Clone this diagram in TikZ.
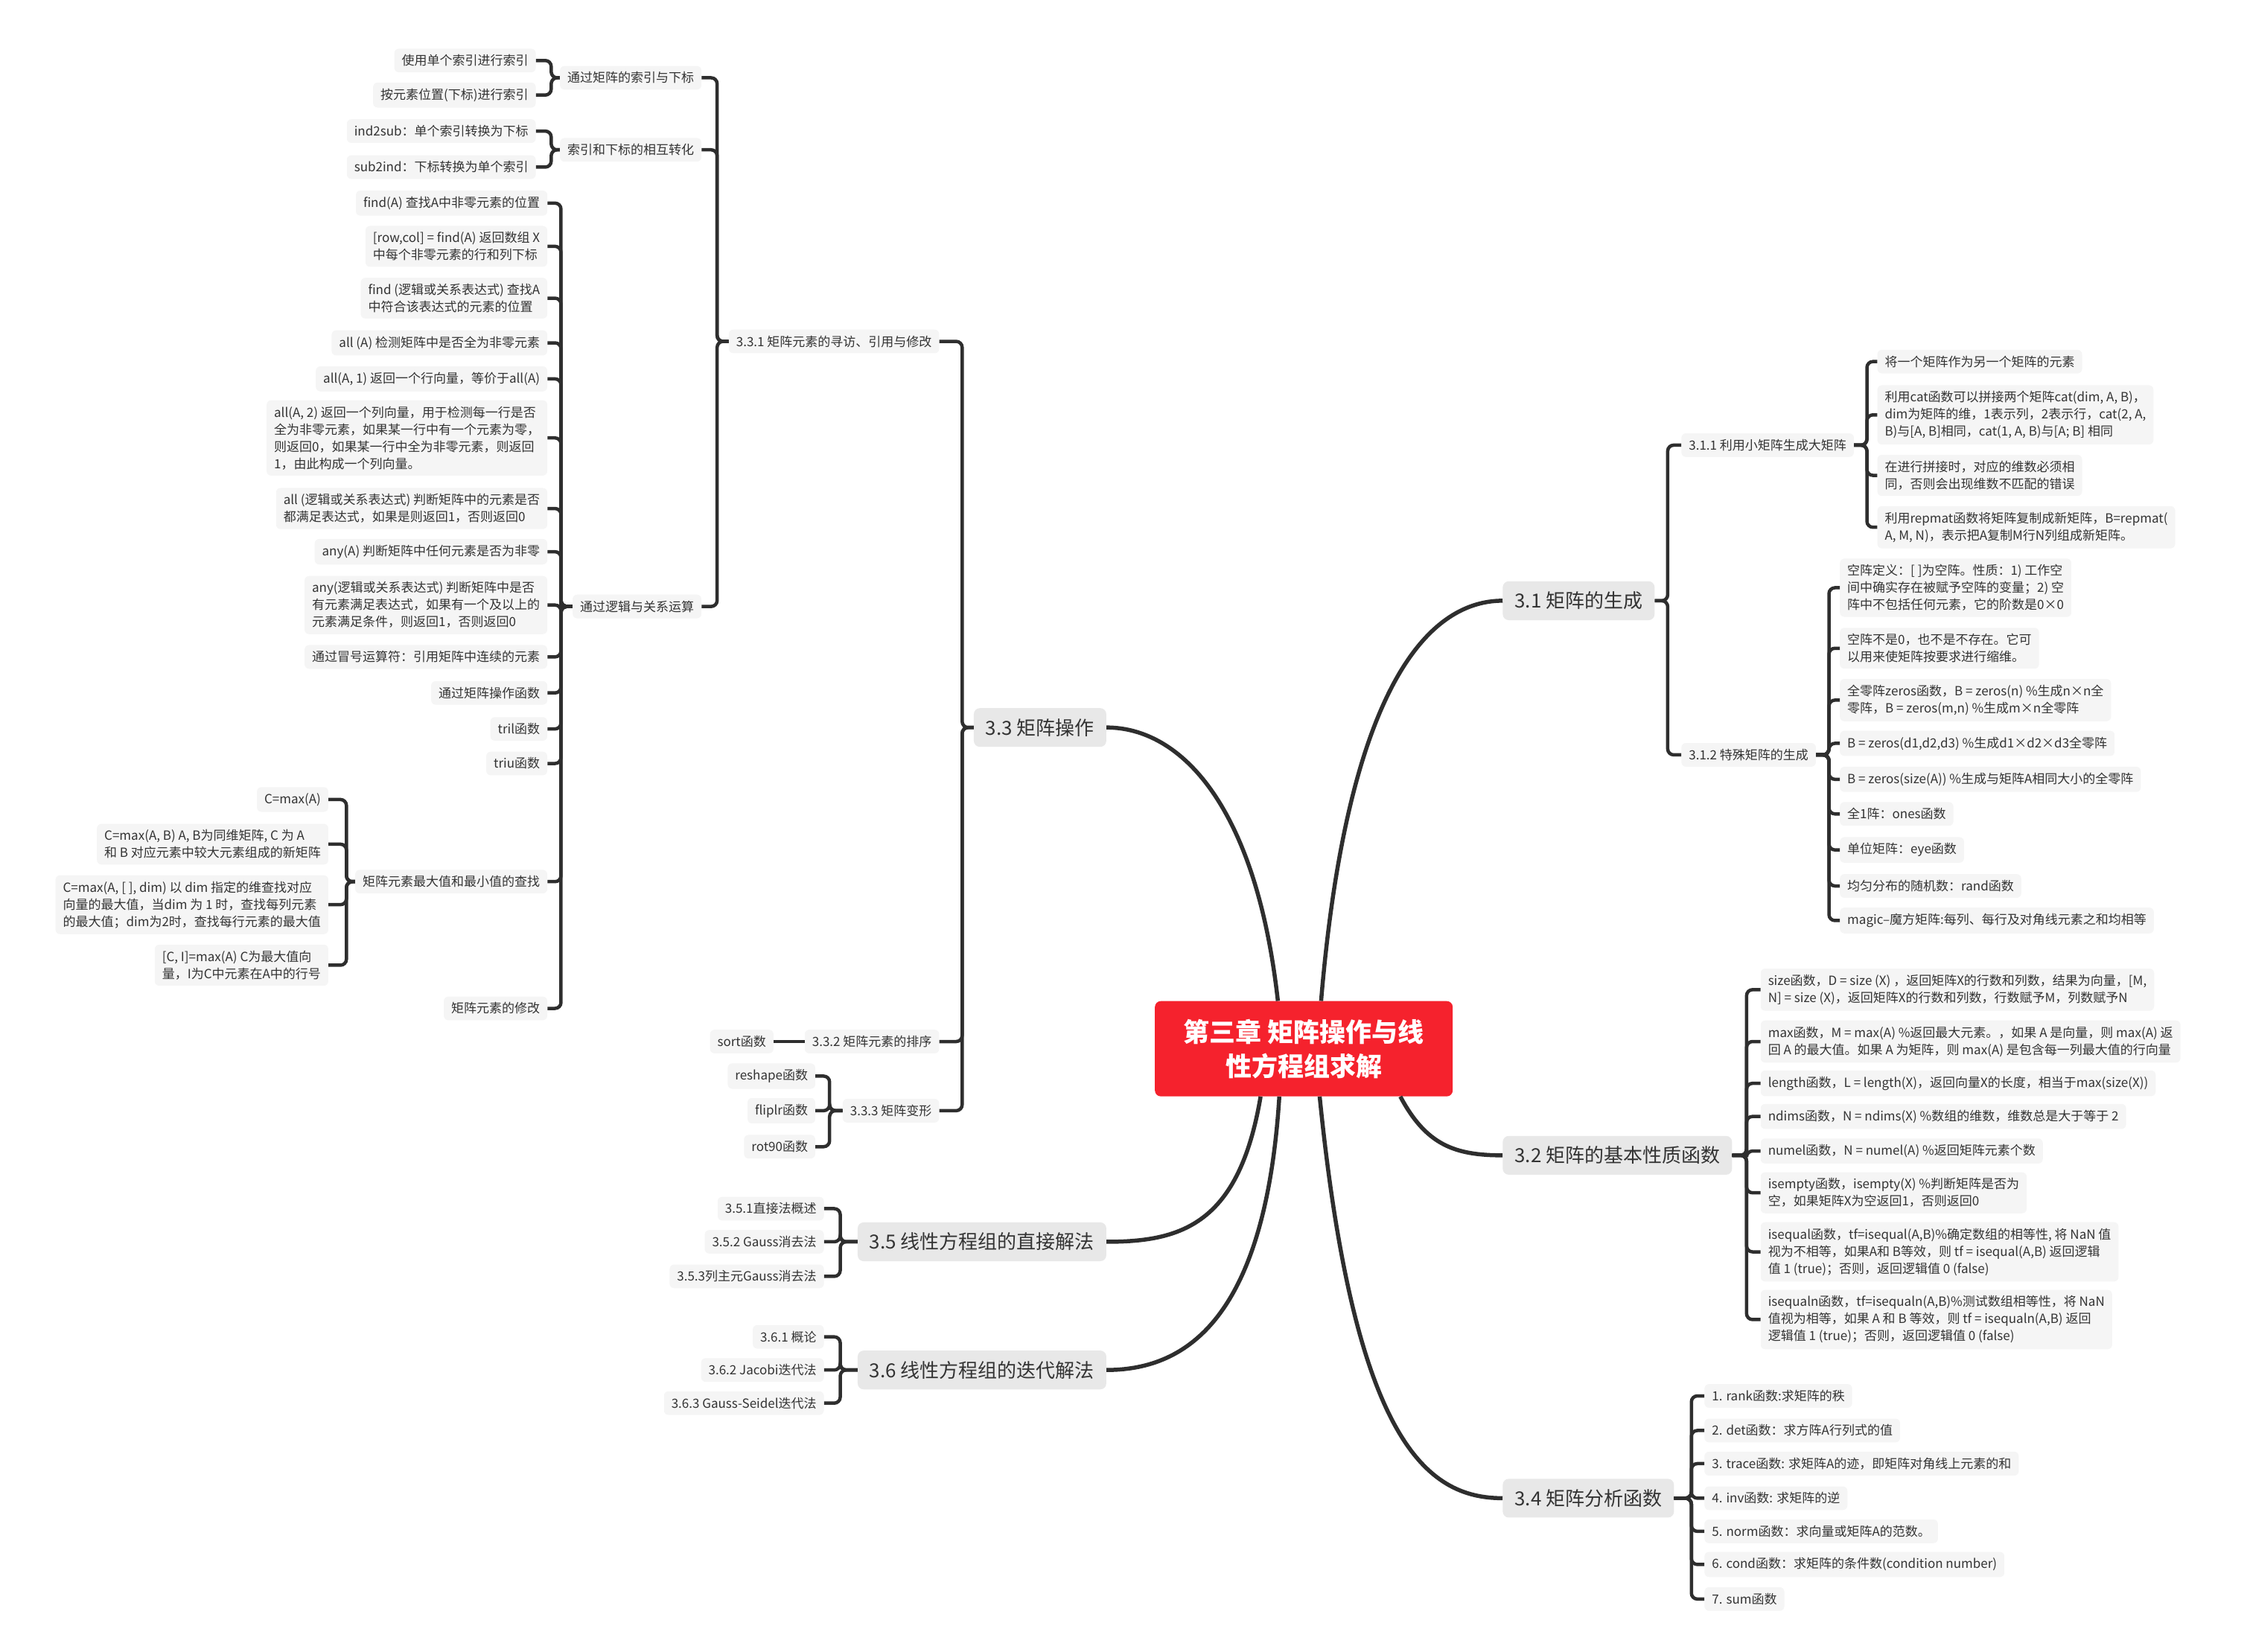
\documentclass[tikz,border=0pt]{standalone}
\usepackage{fontspec}
\setmainfont{Noto Sans CJK SC}
\usetikzlibrary{calc}
\definecolor{txt}{HTML}{333333}
\definecolor{leafg}{HTML}{F5F5F5}
\definecolor{maing}{HTML}{E8E8E8}
\definecolor{lc}{HTML}{2E2E2E}
\definecolor{rootr}{HTML}{F5222D}
\newcommand\fs{\fontsize{17}{23}\selectfont}
\newcommand\fm{\fontsize{26}{32}\selectfont}
\newcommand\fr{\fontsize{35}{46}\selectfont\bfseries}
\begin{document}
\begin{tikzpicture}[x=1.935pt,y=-1.935pt,
  nd/.style={fill=leafg, rounded corners=6pt, inner xsep=10pt, inner ysep=8pt, font=\fs, text=txt, align=left},
  L/.style={nd, anchor=east},
  R/.style={nd, anchor=west},
  mn/.style={fill=maing, rounded corners=8pt, inner xsep=16pt, inner ysep=14pt, font=\fm, text=txt},
  br/.style={draw=lc, line width=4.5pt, rounded corners=8pt},
  conn/.style={draw=lc, line width=5.5pt}]
\useasboundingbox (0,0) rectangle (1559.7,1146.3);
% root
\node[fill=rootr, rounded corners=8pt, minimum width=400pt, minimum height=128pt, text=white, font=\fr, align=center] (root) at (905,728) {第三章 矩阵操作与线\\性方程组求解};
% main branches
\node[mn, anchor=east] (b33) at (768,505) {3.3 矩阵操作};
\node[mn, anchor=east] (b35) at (768,862) {3.5 线性方程组的直接解法};
\node[mn, anchor=east] (b36) at (768,951) {3.6 线性方程组的迭代解法};
\node[mn, anchor=west] (b31) at (1043,417) {3.1 矩阵的生成};
\node[mn, anchor=west] (b32) at (1043,802) {3.2 矩阵的基本性质函数};
\node[mn, anchor=west] (b34) at (1043,1040) {3.4 矩阵分析函数};
\draw[conn] ($(root.north)+(-18,0)$) .. controls (872,560) and (820,505) .. (b33.east);
\draw[conn] ($(root.north)+(12,0)$) .. controls (935,480) and (990,417) .. (b31.west);
\draw[conn] ($(root.south)+(-30,0)$) .. controls (860,850) and (820,862) .. (b35.east);
\draw[conn] ($(root.south)+(-17,0)$) .. controls (878,920) and (820,951) .. (b36.east);
\draw[conn] ($(root.south)+(67,0)$) .. controls (990,795) and (1010,802) .. (b32.west);
\draw[conn] ($(root.south)+(11,0)$) .. controls (940,1000) and (990,1040) .. (b34.west);
% ---------- 3.3 ----------
\node[L] (s331) at (652,237) {3.3.1 矩阵元素的寻访、引用与修改};
\node[L] (s332) at (652,723) {3.3.2 矩阵元素的排序};
\node[L] (s333) at (652,771) {3.3.3 矩阵变形};
\foreach \c in {s331,s332,s333} \draw[br] (b33.west) -- ++(-8,0) |- (\c.east);
\node[L] (sort) at (537,723) {sort函数};
\draw[br] (s332.west) -- (sort.east);
\node[L] (t1) at (566,747) {reshape函数};
\node[L] (t2) at (566,771) {fliplr函数};
\node[L] (t3) at (566,796) {rot90函数};
\foreach \c in {t1,t2,t3} \draw[br] (s333.west) -- ++(-9,0) |- (\c.east);
\node[L] (g1) at (487,54) {通过矩阵的索引与下标};
\node[L] (g2) at (487,104) {索引和下标的相互转化};
\node[L] (g3) at (487,421) {通过逻辑与关系运算};
\foreach \c in {g1,g2,g3} \draw[br] (s331.west) -- ++(-8,0) |- (\c.east);
\node[L] (i1) at (372,42) {使用单个索引进行索引};
\node[L] (i2) at (372,66) {按元素位置(下标)进行索引};
\node[L] (j1) at (372,91) {ind2sub：单个索引转换为下标};
\node[L] (j2) at (372,116) {sub2ind：下标转换为单个索引};
\foreach \c in {i1,i2} \draw[br] (g1.west) -- ++(-6,0) |- (\c.east);
\foreach \c in {j1,j2} \draw[br] (g2.west) -- ++(-6,0) |- (\c.east);
\node[L] (k1) at (380,141) {find(A) 查找A中非零元素的位置};
\node[L] (k2) at (380,171) {[row,col] = find(A) 返回数组 X\\中每个非零元素的行和列下标};
\node[L] (k3) at (380,207) {find (逻辑或关系表达式) 查找A\\中符合该表达式的元素的位置};
\node[L] (k4) at (380,238) {all (A) 检测矩阵中是否全为非零元素};
\node[L] (k5) at (380,263) {all(A, 1) 返回一个行向量，等价于all(A)};
\node[L] (k6) at (380,304) {all(A, 2) 返回一个列向量，用于检测每一行是否\\全为非零元素，如果某一行中有一个元素为零，\\则返回0，如果某一行中全为非零元素，则返回\\1，由此构成一个列向量。};
\node[L] (k7) at (380,353) {all (逻辑或关系表达式) 判断矩阵中的元素是否\\都满足表达式，如果是则返回1，否则返回0};
\node[L] (k8) at (380,383) {any(A) 判断矩阵中任何元素是否为非零};
\node[L] (k9) at (380,420) {any(逻辑或关系表达式) 判断矩阵中是否\\有元素满足表达式，如果有一个及以上的\\元素满足条件，则返回1，否则返回0};
\node[L] (k10) at (380,456) {通过冒号运算符：引用矩阵中连续的元素};
\node[L] (k11) at (380,481) {通过矩阵操作函数};
\node[L] (k12) at (380,506) {tril函数};
\node[L] (k13) at (380,530) {triu函数};
\node[L] (k14) at (380,612) {矩阵元素最大值和最小值的查找};
\node[L] (k15) at (380,700) {矩阵元素的修改};
\foreach \c in {k1,k2,k3,k4,k5,k6,k7,k8,k9,k10,k11,k12,k13,k14,k15} \draw[br] (g3.west) -- ++(-8,0) |- (\c.east);
\node[L] (x1) at (228,555) {C=max(A)};
\node[L] (x2) at (228,586) {C=max(A, B) A, B为同维矩阵, C 为 A\\和 B 对应元素中较大元素组成的新矩阵};
\node[L] (x3) at (228,628) {C=max(A, [ ], dim) 以 dim 指定的维查找对应\\向量的最大值，当dim 为 1 时，查找每列元素\\的最大值；dim为2时，查找每行元素的最大值};
\node[L] (x4) at (228,670) {[C, I]=max(A) C为最大值向\\量，I为C中元素在A中的行号};
\foreach \c in {x1,x2,x3,x4} \draw[br] (k14.west) -- ++(-6,0) |- (\c.east);
% ---------- 3.5 / 3.6 ----------
\node[L] (p1) at (572,839) {3.5.1直接法概述};
\node[L] (p2) at (572,862) {3.5.2 Gauss消去法};
\node[L] (p3) at (572,886) {3.5.3列主元Gauss消去法};
\foreach \c in {p1,p2,p3} \draw[br] (b35.west) -- ++(-12,0) |- (\c.east);
\node[L] (q1) at (572,928) {3.6.1 概论};
\node[L] (q2) at (572,951) {3.6.2 Jacobi迭代法};
\node[L] (q3) at (572,974) {3.6.3 Gauss-Seidel迭代法};
\foreach \c in {q1,q2,q3} \draw[br] (b36.west) -- ++(-12,0) |- (\c.east);
% ---------- 3.1 ----------
\node[R] (s311) at (1167,309) {3.1.1 利用小矩阵生成大矩阵};
\node[R] (s312) at (1167,524) {3.1.2 特殊矩阵的生成};
\foreach \c in {s311,s312} \draw[br] (b31.east) -- ++(9,0) |- (\c.west);
\node[R] (r1) at (1303,251) {将一个矩阵作为另一个矩阵的元素};
\node[R] (r2) at (1303,288) {利用cat函数可以拼接两个矩阵cat(dim, A, B)，\\dim为矩阵的维，1表示列，2表示行，cat(2, A,\\B)与[A, B]相同，cat(1, A, B)与[A; B] 相同};
\node[R] (r3) at (1303,330) {在进行拼接时，对应的维数必须相\\同，否则会出现维数不匹配的错误};
\node[R] (r4) at (1303,366) {利用repmat函数将矩阵复制成新矩阵，B=repmat(\\A, M, N)，表示把A复制M行N列组成新矩阵。};
\foreach \c in {r1,r2,r3,r4} \draw[br] (s311.east) -- ++(9,0) |- (\c.west);
\node[R] (u1) at (1277,408) {空阵定义：[ ]为空阵。性质：1) 工作空\\间中确实存在被赋予空阵的变量；2) 空\\阵中不包括任何元素，它的阶数是0×0};
\node[R] (u2) at (1277,450) {空阵不是0，也不是不存在。它可\\以用来使矩阵按要求进行缩维。};
\node[R] (u3) at (1277,486) {全零阵zeros函数，B = zeros(n) \%生成n×n全\\零阵，B = zeros(m,n) \%生成m×n全零阵};
\node[R] (u4) at (1277,516) {B = zeros(d1,d2,d3) \%生成d1×d2×d3全零阵};
\node[R] (u5) at (1277,541) {B = zeros(size(A)) \%生成与矩阵A相同大小的全零阵};
\node[R] (u6) at (1277,565) {全1阵：ones函数};
\node[R] (u7) at (1277,590) {单位矩阵：eye函数};
\node[R] (u8) at (1277,615) {均匀分布的随机数：rand函数};
\node[R] (u9) at (1277,639) {magic--魔方矩阵:每列、每行及对角线元素之和均相等};
\foreach \c in {u1,u2,u3,u4,u5,u6,u7,u8,u9} \draw[br] (s312.east) -- ++(9,0) |- (\c.west);
% ---------- 3.2 ----------
\node[R] (v1) at (1222,687) {size函数，D = size (X) ，返回矩阵X的行数和列数，结果为向量，[M,\\N] = size (X)，返回矩阵X的行数和列数，行数赋予M，列数赋予N};
\node[R] (v2) at (1222,723) {max函数，M = max(A) \%返回最大元素。，如果 A 是向量，则 max(A) 返\\回 A 的最大值。如果 A 为矩阵，则 max(A) 是包含每一列最大值的行向量};
\node[R] (v3) at (1222,752) {length函数，L = length(X)，返回向量X的长度，相当于max(size(X))};
\node[R] (v4) at (1222,775) {ndims函数，N = ndims(X) \%数组的维数，维数总是大于等于 2};
\node[R] (v5) at (1222,799) {numel函数，N = numel(A) \%返回矩阵元素个数};
\node[R] (v6) at (1222,828) {isempty函数，isempty(X) \%判断矩阵是否为\\空，如果矩阵X为空返回1，否则返回0};
\node[R] (v7) at (1222,869) {isequal函数，tf=isequal(A,B)\%确定数组的相等性, 将 NaN 值\\视为不相等，如果A和 B等效，则 tf = isequal(A,B) 返回逻辑\\值 1 (true)；否则，返回逻辑值 0 (false)};
\node[R] (v8) at (1222,916) {isequaln函数，tf=isequaln(A,B)\%测试数组相等性，将 NaN\\值视为相等，如果 A 和 B 等效，则 tf = isequaln(A,B) 返回\\逻辑值 1 (true)；否则，返回逻辑值 0 (false)};
\foreach \c in {v1,v2,v3,v4,v5,v6,v7,v8} \draw[br] (b32.east) -- ++(10,0) |- (\c.west);
% ---------- 3.4 ----------
\node[R] (w1) at (1183,969) {1. rank函数:求矩阵的秩};
\node[R] (w2) at (1183,993) {2. det函数：求方阵A行列式的值};
\node[R] (w3) at (1183,1016) {3. trace函数: 求矩阵A的迹，即矩阵对角线上元素的和};
\node[R] (w4) at (1183,1040) {4. inv函数: 求矩阵的逆};
\node[R] (w5) at (1183,1063) {5. norm函数：求向量或矩阵A的范数。};
\node[R] (w6) at (1183,1086) {6. cond函数：求矩阵的条件数(condition number)};
\node[R] (w7) at (1183,1110) {7. sum函数};
\foreach \c in {w1,w2,w3,w4,w5,w6,w7} \draw[br] (b34.east) -- ++(12,0) |- (\c.west);
\end{tikzpicture}
\end{document}
